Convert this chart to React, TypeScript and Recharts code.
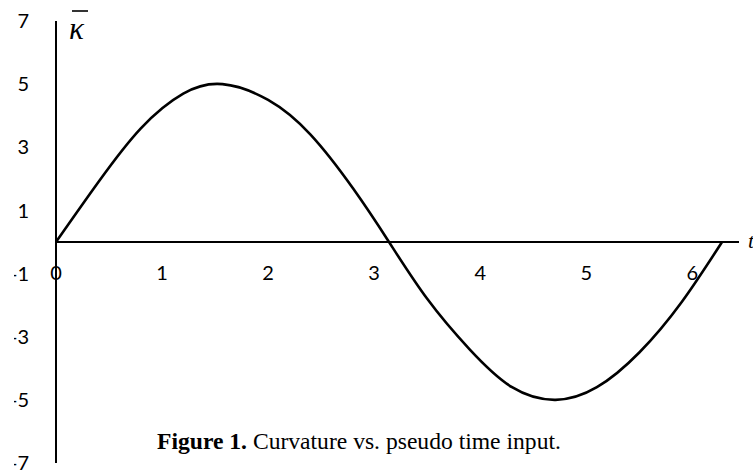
import { LineChart, Line, XAxis, YAxis, ReferenceLine, ReferenceDot } from 'recharts';

// curvature samples along pseudo time t (0 .. 2π)
const tValues = [0, 0.4, 0.8, 1.2, 1.57, 2.0, 2.4, 2.8, 3.14, 3.5, 3.9, 4.3, 4.71, 5.1, 5.5, 5.9, 6.28];
const kappaValues = [0, 1.9, 3.6, 4.7, 5.0, 4.5, 3.4, 1.7, 0, -1.8, -3.4, -4.6, -5.0, -4.6, -3.5, -1.9, 0];

const yTicks = [7, 5, 3, 1, -1, -3, -5, -7];
const xTicks = [0, 1, 2, 3, 4, 5, 6];

const captionBold = 'Figure 1.';
const captionText = ' Curvature vs. pseudo time input.';

const rows = tValues.map((t, i) => ({ t, k: kappaValues[i] }));

const W = 753;
const H = 474;
const CLIP = 14; // left edge cuts off the minus signs of the y labels

const tickFont = { fontFamily: 'Lato', fontSize: 20, fill: '#000' };

export default function App() {
  return (
    <div style={{ position: 'absolute', left: 0, top: 0, width: W, height: H, background: '#fff' }}>
      <div style={{ position: 'absolute', left: CLIP, top: 0, width: W - CLIP, height: H, overflow: 'hidden' }}>
        <div style={{ marginLeft: -CLIP }}>
          <LineChart width={W} height={H} data={rows} margin={{ top: 21, right: 14, bottom: 11, left: 0 }}>
            <XAxis dataKey="t" type="number" domain={[0, 6.44]} hide />
            <YAxis
              type="number"
              domain={[-7, 7]}
              ticks={yTicks}
              width={56}
              tickLine={false}
              tickSize={0}
              tickMargin={27}
              axisLine={{ stroke: '#000', strokeWidth: 2 }}
              tick={tickFont}
              interval={0}
            />
            <ReferenceLine y={0} stroke="#000" strokeWidth={2} />
            {xTicks.map(v => (
              <ReferenceDot
                key={v}
                x={v}
                y={0}
                r={0}
                fill="none"
                stroke="none"
                label={{ value: String(v), position: 'bottom', offset: 24, ...tickFont }}
              />
            ))}
            <Line
              type="natural"
              dataKey="k"
              stroke="#000"
              strokeWidth={2.6}
              dot={false}
              isAnimationActive={false}
            />
          </LineChart>
        </div>
      </div>
      <svg width={W} height={H} style={{ position: 'absolute', left: 0, top: 0, pointerEvents: 'none' }}>
        <line x1={72} x2={88} y1={11} y2={11} stroke="#000" strokeWidth={1.6} />
        <text x={69} y={39} fontFamily="Liberation Serif" fontStyle="italic" fontSize={31} fill="#000">κ</text>
        <text x={748} y={248} fontFamily="Liberation Serif" fontStyle="italic" fontSize={22} fill="#000">t</text>
        <text x={157} y={449} fontFamily="Liberation Serif" fontSize={23.6} fill="#000">
          <tspan fontWeight="bold">{captionBold}</tspan>
          {captionText}
        </text>
      </svg>
    </div>
  );
}
